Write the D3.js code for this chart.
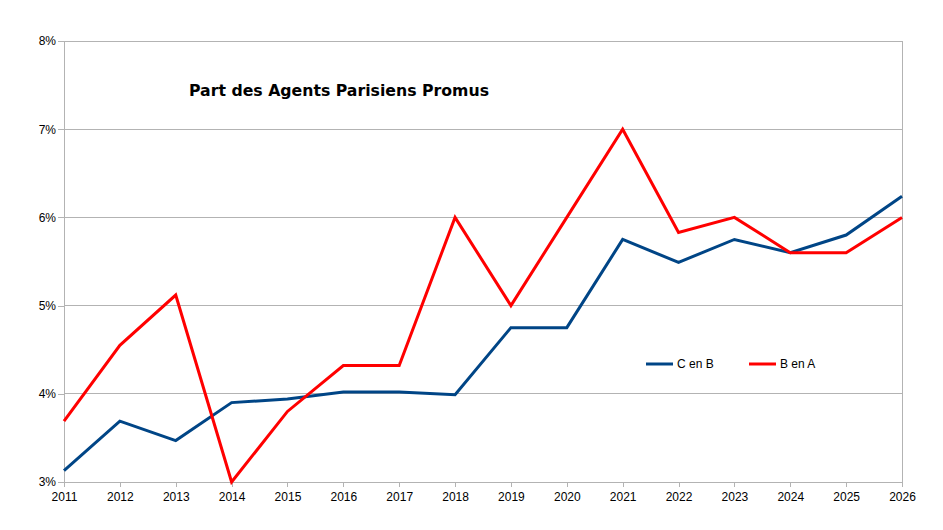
<!DOCTYPE html>
<html>
<head>
<meta charset="utf-8">
<script src="https://cdn.jsdelivr.net/npm/d3@7"></script>
<style>
  body { margin: 0; background: #fff; }
  svg { font-family: "Liberation Sans", Arial, sans-serif; }
</style>
</head>
<body>
<div id="chart"></div>
<script>
const years = [2011, 2012, 2013, 2014, 2015, 2016, 2017, 2018, 2019, 2020, 2021, 2022, 2023, 2024, 2025, 2026];
const cEnB = [3.13, 3.69, 3.47, 3.90, 3.94, 4.02, 4.02, 3.99, 4.75, 4.75, 5.75, 5.49, 5.75, 5.60, 5.80, 6.24];
const bEnA = [3.69, 4.55, 5.12, 3.00, 3.80, 4.32, 4.32, 6.00, 5.00, 6.00, 7.00, 5.83, 6.00, 5.60, 5.60, 6.00];
const yTicks = [3, 4, 5, 6, 7, 8];
const seriesNames = ["C en B", "B en A"];
const seriesColors = ["#004586", "#ff0000"];

const width = 943;
const height = 530;
const margin = { top: 41, right: 41, bottom: 48, left: 64 };

const svg = d3.select("#chart").append("svg")
  .attr("width", width)
  .attr("height", height);

const x = d3.scaleLinear()
  .domain([d3.min(years), d3.max(years)])
  .range([margin.left, width - margin.right]);

const y = d3.scaleLinear()
  .domain([3, 8])
  .range([height - margin.bottom, margin.top]);

// horizontal grid
svg.append("g")
  .selectAll("line")
  .data(yTicks)
  .join("line")
  .attr("x1", margin.left)
  .attr("x2", width - margin.right)
  .attr("y1", d => y(d))
  .attr("y2", d => y(d))
  .attr("stroke", "#b3b3b3")
  .attr("stroke-width", 1)
  .attr("shape-rendering", "crispEdges");

// right border
svg.append("line")
  .attr("x1", width - margin.right)
  .attr("x2", width - margin.right)
  .attr("y1", margin.top)
  .attr("y2", height - margin.bottom)
  .attr("stroke", "#b3b3b3")
  .attr("shape-rendering", "crispEdges");

const xAxis = svg.append("g")
  .attr("transform", `translate(0,${height - margin.bottom})`)
  .call(d3.axisBottom(x).tickValues(years).tickFormat(d3.format("d")).tickSize(5).tickSizeOuter(0));

const yAxis = svg.append("g")
  .attr("transform", `translate(${margin.left},0)`)
  .call(d3.axisLeft(y).tickValues(yTicks).tickFormat(d => d + "%").tickSize(6).tickSizeOuter(0).tickPadding(2));

[xAxis, yAxis].forEach(a => {
  a.select(".domain").attr("stroke", "#b3b3b3").attr("shape-rendering", "crispEdges");
  a.selectAll(".tick line").attr("stroke", "#b3b3b3").attr("shape-rendering", "crispEdges");
  a.selectAll("text").attr("fill", "#000").style("font-size", "12px")
    .style("font-family", "'Liberation Sans', Arial, sans-serif");
});
xAxis.selectAll("text").attr("dy", "0.95em");

const line = d3.line()
  .x((d, i) => x(years[i]))
  .y(d => y(d));

[cEnB, bEnA].forEach((s, k) => {
  svg.append("path")
    .datum(s)
    .attr("fill", "none")
    .attr("stroke", seriesColors[k])
    .attr("stroke-width", 3)
    .attr("stroke-linejoin", "miter")
    .attr("d", line);
});

// title
svg.append("text")
  .attr("x", 189)
  .attr("y", 96)
  .attr("textLength", 300)
  .attr("lengthAdjust", "spacingAndGlyphs")
  .style("font-family", "'DejaVu Sans', sans-serif")
  .style("font-weight", "bold")
  .style("font-size", "15px")
  .attr("fill", "#000")
  .text("Part des Agents Parisiens Promus");

// legend
const legend = svg.append("g").attr("transform", "translate(646,364)");
const legendX = [0, 103];
seriesNames.forEach((name, k) => {
  const g = legend.append("g").attr("transform", `translate(${legendX[k]},0)`);
  g.append("line")
    .attr("x1", 0).attr("x2", 27)
    .attr("stroke", seriesColors[k])
    .attr("stroke-width", 3);
  g.append("text")
    .attr("x", 31)
    .attr("dy", "0.35em")
    .style("font-size", "12px")
    .attr("fill", "#000")
    .text(name);
});
</script>
</body>
</html>
